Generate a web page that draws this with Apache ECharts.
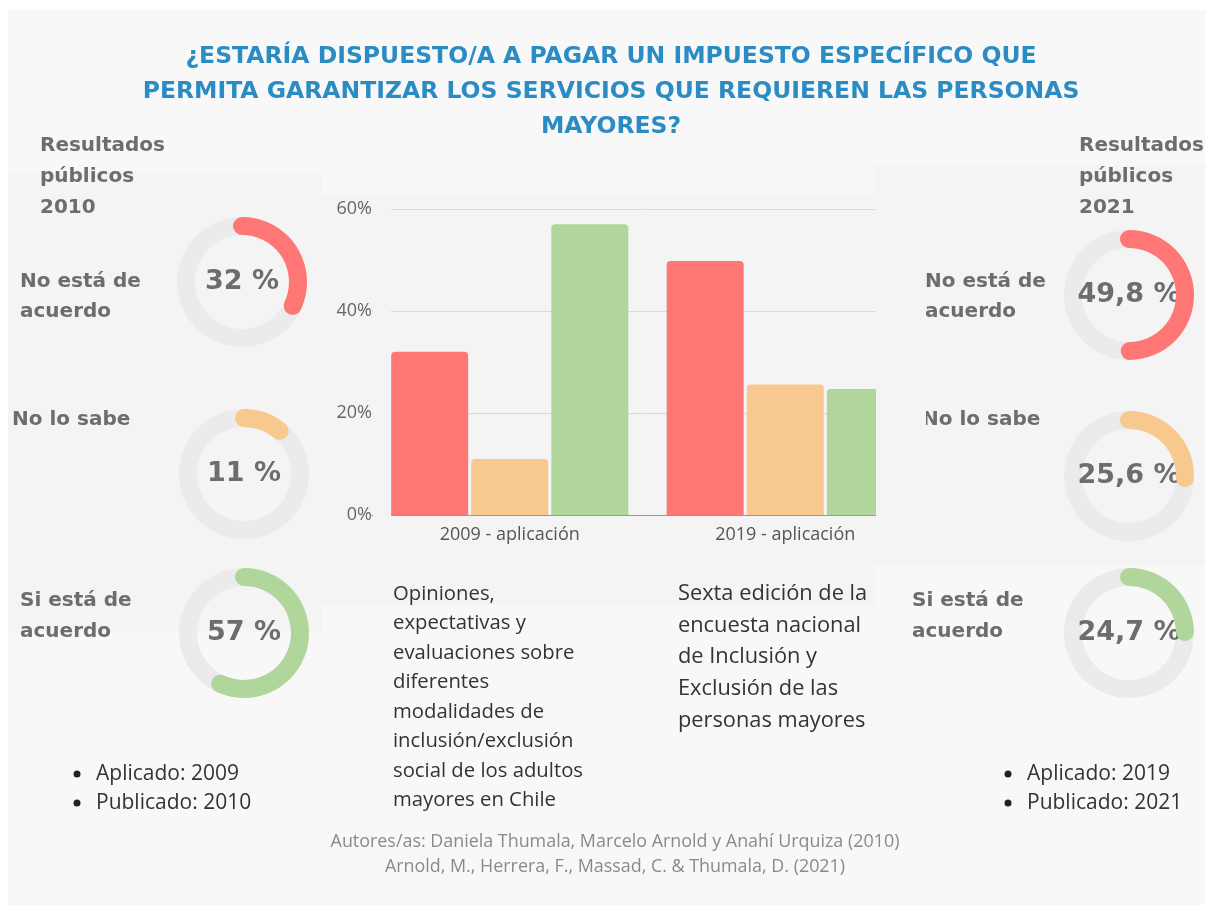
<!DOCTYPE html>
<html>
<head>
<meta charset="utf-8">
<script src="https://cdn.jsdelivr.net/npm/echarts@6/dist/echarts.min.js"></script>
<style>
    html, body { margin: 0; padding: 0; background: #fff; }
    #main { width: 1205px; height: 908px; }
</style>
</head>
<body>
<div id="main"></div>
<script>
// data
const categories = ['2009 - aplicación', '2019 - aplicación'];
const noAcuerdo = [32, 49.8];
const noSabe = [11, 25.6];
const siAcuerdo = [57, 24.7];
const seriesNames = ['No está de acuerdo', 'No lo sabe', 'Si está de acuerdo'];
const seriesColors = ['#ff7775', '#f7c98e', '#b0d69c'];

const titleLines = [
    '¿ESTARÍA DISPUESTO/A A PAGAR UN IMPUESTO ESPECÍFICO QUE',
    'PERMITA GARANTIZAR LOS SERVICIOS QUE REQUIEREN LAS PERSONAS',
    'MAYORES?'
];
const leftHead = ['Resultados', 'públicos', '2010'];
const rightHead = ['Resultados', 'públicos', '2021'];
const leftDesc = ['Opiniones,', 'expectativas y', 'evaluaciones sobre', 'diferentes',
    'modalidades de', 'inclusión/exclusión', 'social de los adultos', 'mayores en Chile'];
const rightDesc = ['Sexta edición de la', 'encuesta nacional', 'de Inclusión y',
    'Exclusión de las', 'personas mayores'];
const leftBullets = ['Aplicado: 2009', 'Publicado: 2010'];
const rightBullets = ['Aplicado: 2019', 'Publicado: 2021'];
const authors = ['Autores/as: Daniela Thumala, Marcelo Arnold y Anahí Urquiza (2010)',
    'Arnold, M., Herrera, F., Massad, C. & Thumala, D. (2021)'];

const BOLD = '"DejaVu Sans", sans-serif';
const BODY = '"Open Sans", sans-serif';
const GREY = '#6d6d6d';

const chart = echarts.init(document.getElementById('main'));

function gauge(value, color, cx, cy) {
    return {
        type: 'gauge',
        center: [cx, cy],
        radius: 65,
        startAngle: 90,
        endAngle: -270,
        min: 0,
        max: 100,
        animation: false,
        pointer: { show: false },
        progress: { show: true, roundCap: true, width: 18, itemStyle: { color: color } },
        axisLine: { lineStyle: { width: 18, color: [[1, '#ebebeb']] } },
        splitLine: { show: false },
        axisTick: { show: false },
        axisLabel: { show: false },
        title: { show: false },
        detail: {
            offsetCenter: [0, 0],
            fontFamily: BOLD,
            fontWeight: 'bold',
            fontSize: 27,
            color: GREY,
            formatter: v => String(v).replace('.', ',') + ' %'
        },
        data: [{ value: value }]
    };
}

function textLines(lines, x, y, lh, style, z) {
    return lines.map((t, i) => ({
        type: 'text', x: x, y: y + i * lh, z: z || 5,
        style: Object.assign({ text: t, verticalAlign: 'middle' }, style)
    }));
}

function bullets(lines, x, y, lh) {
    const dots = lines.map((t, i) => ({
        type: 'circle', z: 5, shape: { cx: x, cy: y + i * lh, r: 3.5 }, style: { fill: '#222' }
    }));
    return dots.concat(textLines(lines, x + 19, y, lh, { font: '21px ' + BODY, fill: '#333' }));
}

const labelStyle = { font: 'bold 20px ' + BOLD, fill: GREY };

const graphics = [
    // background panels
    { type: 'rect', z: -10, shape: { x: 8, y: 10, width: 1197, height: 895 }, style: { fill: '#f8f8f8' } },
    { type: 'rect', z: -9, shape: { x: 8, y: 172, width: 314, height: 460 }, style: { fill: '#f4f4f4' } },
    { type: 'rect', z: -9, shape: { x: 320, y: 195, width: 555, height: 410 }, style: { fill: '#f4f4f4' } },
    { type: 'rect', z: -9, shape: { x: 875, y: 165, width: 330, height: 400 }, style: { fill: '#f4f4f4' } },
    // the bar chart is cropped on both sides
    { type: 'rect', z: 50, shape: { x: 876, y: 195, width: 50, height: 330 }, style: { fill: '#f4f4f4' } },
    { type: 'rect', z: 50, shape: { x: 373, y: 200, width: 18, height: 320 }, style: { fill: '#f4f4f4' } }
]
    .concat(textLines(titleLines, 611, 57, 35,
        { font: 'bold 23.5px ' + BOLD, fill: '#2b8cc4', align: 'center' }))
    .concat(textLines(leftHead, 40, 146, 31, labelStyle))
    .concat(textLines(rightHead, 1079, 146, 31, labelStyle))
    .concat(textLines(['No está de', 'acuerdo'], 20, 282, 30, labelStyle))
    .concat(textLines(['No lo sabe'], 12, 420, 30, labelStyle))
    .concat(textLines(['Si está de', 'acuerdo'], 20, 601, 31, labelStyle))
    .concat(textLines(['No está de', 'acuerdo'], 925, 282, 30, labelStyle))
    .concat(textLines(['No lo sabe'], 922, 420, 30, labelStyle))
    .concat(textLines(['Si está de', 'acuerdo'], 912, 601, 31, labelStyle))
    .concat(textLines(leftDesc, 393, 594, 29.5, { font: '20.3px ' + BODY, fill: '#333' }))
    .concat(textLines(rightDesc, 678, 594, 31.6, { font: '21.8px ' + BODY, fill: '#333' }))
    .concat(bullets(leftBullets, 77, 774, 29))
    .concat(bullets(rightBullets, 1008, 774, 29))
    .concat(textLines(authors, 615, 842, 25,
        { font: '17.9px ' + BODY, fill: '#8a8a8a', align: 'center' }));

const barSeries = [noAcuerdo, noSabe, siAcuerdo].map((d, i) => ({
    name: seriesNames[i],
    type: 'bar',
    data: d,
    barWidth: 77,
    barGap: '4%',
    itemStyle: { color: seriesColors[i], borderRadius: [4, 4, 0, 0] },
    animation: false
}));

chart.setOption({
    backgroundColor: '#fff',
    animation: false,
    graphic: graphics,
    grid: { left: 372, width: 551, top: 209, bottom: 393 },
    xAxis: {
        type: 'category',
        data: categories,
        axisTick: { show: false },
        axisLine: { lineStyle: { color: '#999' } },
        axisLabel: { color: '#555', fontFamily: BODY, fontSize: 18, margin: 11 }
    },
    yAxis: {
        type: 'value',
        min: 0,
        max: 60,
        interval: 20,
        axisLabel: { formatter: '{value}%', color: '#666', fontFamily: BODY, fontSize: 18, margin: 0 },
        splitLine: { lineStyle: { color: '#d9d9d9' } }
    },
    series: barSeries.concat([
        gauge(noAcuerdo[0], seriesColors[0], 242, 282),
        gauge(noSabe[0], seriesColors[1], 244, 474),
        gauge(siAcuerdo[0], seriesColors[2], 244, 633),
        gauge(noAcuerdo[1], seriesColors[0], 1129, 295),
        gauge(noSabe[1], seriesColors[1], 1129, 476),
        gauge(siAcuerdo[1], seriesColors[2], 1129, 633)
    ])
});
</script>
</body>
</html>
